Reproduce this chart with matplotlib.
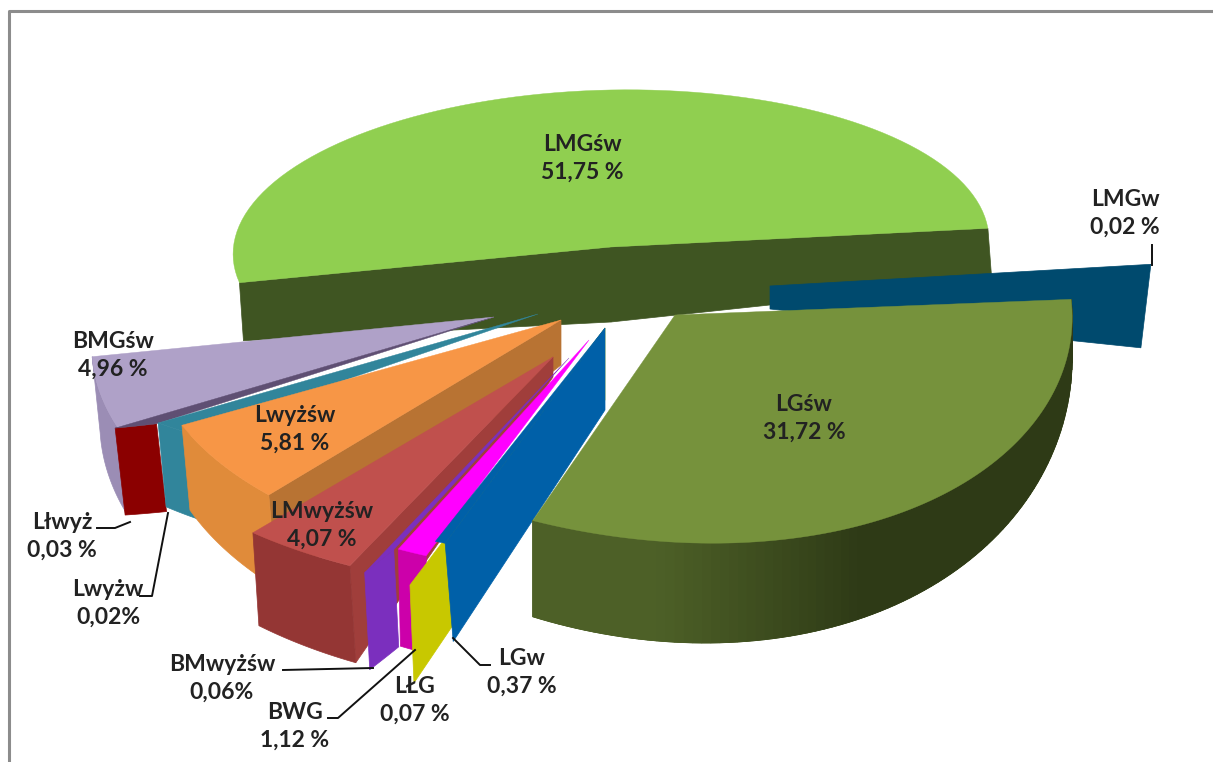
import numpy as np
import matplotlib
matplotlib.use("Agg")
import matplotlib.pyplot as plt
from matplotlib.colors import to_rgb

nazwy = ["LMGśw", "LMGw", "LGśw", "LGw", "LŁG", "BWG", "BMwyżśw", "LMwyżśw",
         "Lwyżśw", "Lwyżw", "Lłwyż", "BMGśw"]
udzialy = [51.75, 0.02, 31.72, 0.37, 0.07, 1.12, 0.06, 4.07, 5.81, 0.02, 0.03, 4.96]
napisy = ["51,75 %", "0,02 %", "31,72 %", "0,37 %", "0,07 %", "1,12 %", "0,06%", "4,07 %",
          "5,81 %", "0,02%", "0,03 %", "4,96 %"]

# wyglad wycinkow (kolejnosc jak w nazwy)
srodek_x = [611, 770, 675, 605, 605, 589, 569, 553, 561, 538, 494, 494]
srodek_y = [247, 286, 315, 328, 328, 340, 358, 357, 320, 314, 317, 317]
rx = [378, 382, 405, 455, 523, 432, 440, 457, 445, 430, 405, 425]
ry = [157, 233, 228, 230, 277, 233, 233, 233, 232, 254, 233, 238]
obrot = [1.3, 1, 0, 0, 0, 0, 0, 0, 0, 0, 0, 0]
wys_brzeg = [76, 120, 100, 100, 100, 100, 100, 100, 100, 100, 103, 100]
wys_srodek = [75, 23, 0, 82, 72, 0, 0, 20, 45, 0, 0, 0]
przes_dol = [4, -10, 0, 8, 4, 2, 5, 6, 8, 8, 10, 8]
min_kat = [0, 0, 0, 0, 0, 0, 0.9, 0, 0, 4.2, 1.8, 0]
f1 = [1, 1, 0.98, 1, 1, 1, 0.914, 1, 1, 0.936, 0.951, 1]
f2 = [1, 1, 1, 1, 1, 1, 1.032, 1, 0.965, 0.982, 1.05, 0.96]
zbieg = [0.4, 0.4, 1.5, 0.4, 0.4, 0.4, 0.4, 0.4, 0.4, 0.4, 0.4, 0.4]
wygiecie = [0, 0, 12, 0, 0, 0, 0, 0, 0, 0, 0, 0]
kolor_gora = ["#90CF50", "#004A6E", "#76923C", "#0060A8", "#C8C800", "#FF00FF", "#7B2FBE",
              "#C0504D", "#F79646", "#31859B", "#5F4F73", "#AFA1C8"]
kolor_bok = [None, None, "#4F6228", None, None, "#CC00AA", "#7B2FBE", "#943634",
             "#E08B3A", "#31859B", "#8B0000", "#9B8DB5"]
kolor_wew = ["#3F5522", "#004A6E", None, "#0060A8", "#C8C800", None, None, "#A03E3B",
             "#B87333", None, None, None]
kolejnosc = [0, 1, 11, 10, 9, 8, 7, 6, 5, 4, 3, 2]

# podpisy i linie odniesienia
podpis_x = [582, 1125, 804, 522, 415, 295, 222, 322, 295, 108, 62, 113]
podpis_y = [158, 213, 418, 672, 700, 726, 678, 525, 429, 603, 536, 355]
linie = [[(1152, 245), (1152, 265)],
         [(97, 528), (115, 528), (130, 522)],
         [(140, 596), (152, 596), (168, 513)],
         [(283, 670), (373, 668)],
         [(328, 718), (338, 718), (415, 650)],
         [(453, 638), (480, 665), (490, 665)]]

kat_start = 190


def brzeg(i, teta, f=1.0):
    t = np.radians(teta)
    dx = f * rx[i] * np.cos(t)
    dy = -f * ry[i] * np.sin(t) - wygiecie[i] * np.sin(2 * t)
    o = np.radians(obrot[i])
    return (srodek_x[i] + dx * np.cos(o) + dy * np.sin(o),
            srodek_y[i] - dx * np.sin(o) + dy * np.cos(o))


def wysokosc(i, teta):
    q = zbieg[i]
    return wys_brzeg[i] * (1 - q * np.sin(np.radians(teta))) / (1 + q)


def sciana(ax, i, teta, f, kolor):
    x, y = brzeg(i, teta, f)
    ax.fill([srodek_x[i], x, x + przes_dol[i], srodek_x[i]],
            [srodek_y[i], y, y + wysokosc(i, teta), srodek_y[i] + wys_srodek[i]],
            color=kolor, lw=0.5)


fig = plt.figure(figsize=(12.13, 7.62), dpi=100)
ax = fig.add_axes([0, 0, 1, 1])
ax.set_xlim(0, 1213)
ax.set_ylim(762, 0)
ax.axis("off")

# ramka
ax.plot([9, 9, 1213], [762, 11, 11], color="#8C8C8C", lw=2.2)

katy = np.array(udzialy) * 3.6
konce = kat_start - np.cumsum(katy)
poczatki = konce + katy

for i in kolejnosc:
    sr = (poczatki[i] + konce[i]) / 2
    szer = max(katy[i], min_kat[i])
    t1 = sr + szer / 2
    t2 = sr - szer / 2
    tety = np.linspace(t1, t2, 90)
    ff = np.linspace(f1[i], f2[i], 90)
    rim = [brzeg(i, t, f) for t, f in zip(tety, ff)]
    xs = [p[0] for p in rim]
    ys = [p[1] for p in rim]
    # sciany przy srodku
    if kolor_wew[i] is not None:
        sciana(ax, i, t1, f1[i], kolor_wew[i])
    if nazwy[i] == "LMGśw":
        sciana(ax, i, t2, f2[i], kolor_wew[i])
    # sciana zewnetrzna
    if kolor_bok[i] is not None:
        dol_x = [x + przes_dol[i] for x in xs]
        dol_y = [y + wysokosc(i, t) for y, t in zip(ys, tety)]
        ax.fill(xs + dol_x[::-1], ys + dol_y[::-1], color=kolor_bok[i], lw=0.5)
    if nazwy[i] == "LGśw":
        # cieniowanie boku, po prawej ciemniej
        ciemny = np.array(to_rgb("#2E3A16"))
        jasny = np.array(to_rgb("#4D6027"))
        for k in range(89):
            w = np.clip((-62 - tety[k]) / 30, 0, 1)
            kol = ciemny * (1 - w) + jasny * w
            ax.fill([xs[k], xs[k + 1], xs[k + 1], xs[k]],
                    [ys[k], ys[k + 1], ys[k + 1] + wysokosc(i, tety[k + 1]), ys[k] + wysokosc(i, tety[k])],
                    color=kol, lw=0.6)
    # gora wycinka
    if nazwy[i] not in ("LMGw", "LŁG"):
        ax.fill([srodek_x[i]] + xs, [srodek_y[i]] + ys, color=kolor_gora[i], lw=0.3)

plt.rcParams["font.family"] = ["Lato", "DejaVu Sans"]
for i in range(len(nazwy)):
    ax.text(podpis_x[i], podpis_y[i], nazwy[i] + "\n" + napisy[i], ha="center", va="center",
            fontsize=16.5, fontweight="bold", color="#222222", linespacing=1.4, zorder=5)

for linia in linie:
    ax.plot([p[0] for p in linia], [p[1] for p in linia], color="#111111", lw=1.4, zorder=4)

fig.savefig("out.png", dpi=100)
